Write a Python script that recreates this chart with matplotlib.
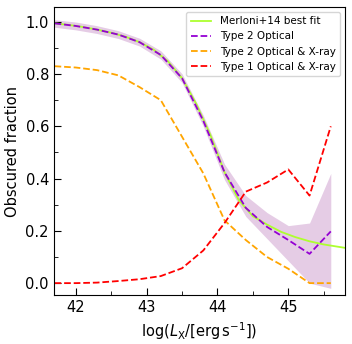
import matplotlib
matplotlib.use("Agg")
import matplotlib.pyplot as plt
from matplotlib.ticker import MultipleLocator

# luminosity bins
logL = [41.7, 42.0, 42.3, 42.6, 42.9, 43.2, 43.5, 43.8, 44.1, 44.4, 44.7, 45.0, 45.3, 45.6]

# Type 2 Optical fraction and its uncertainty band
type2_opt = [0.994, 0.984, 0.970, 0.951, 0.922, 0.873, 0.784, 0.621, 0.424, 0.288, 0.215, 0.165, 0.112, 0.198]
type2_opt_lo = [0.979, 0.969, 0.955, 0.936, 0.907, 0.857, 0.767, 0.600, 0.395, 0.255, 0.170, 0.085, 0.000, -0.020]
type2_opt_hi = [1.008, 0.999, 0.985, 0.966, 0.937, 0.889, 0.801, 0.642, 0.455, 0.335, 0.270, 0.220, 0.230, 0.420]

# Type 2 Optical & X-ray
type2_optx = [0.830, 0.825, 0.815, 0.795, 0.750, 0.700, 0.560, 0.420, 0.240, 0.165, 0.100, 0.055, 0.000, 0.000]

# Type 1 Optical & X-ray
type1_optx = [0.000, 0.000, 0.002, 0.008, 0.015, 0.027, 0.057, 0.125, 0.230, 0.350, 0.385, 0.435, 0.335, 0.600]

# Merloni+14 best fit curve
merloni_x = [41.7, 41.9, 42.1, 42.3, 42.5, 42.7, 42.9, 43.1, 43.3, 43.5, 43.7, 43.9, 44.1, 44.3, 44.5, 44.7, 44.9, 45.1, 45.3, 45.5, 45.8]
merloni_y = [0.994, 0.988, 0.980, 0.970, 0.958, 0.943, 0.922, 0.893, 0.849, 0.784, 0.686, 0.567, 0.424, 0.318, 0.256, 0.224, 0.196, 0.176, 0.160, 0.148, 0.135]

fig = plt.figure(figsize=(3.52, 3.44), dpi=100)
ax = fig.add_axes([0.153, 0.142, 0.827, 0.838])

ax.fill_between(logL, type2_opt_lo, type2_opt_hi, color='purple', alpha=0.2, lw=0)
ax.plot(merloni_x, merloni_y, color='greenyellow', lw=1.3, label='Merloni+14 best fit')
ax.plot(logL, type2_opt, color='darkviolet', ls='--', lw=1.3, label='Type 2 Optical')
ax.plot(logL, type2_optx, color='orange', ls='--', lw=1.3, label='Type 2 Optical & X-ray')
ax.plot(logL, type1_optx, color='red', ls='--', lw=1.3, label='Type 1 Optical & X-ray')

ax.set_xlim(41.69, 45.8)
ax.set_ylim(-0.046, 1.057)
ax.xaxis.set_major_locator(MultipleLocator(1))
ax.xaxis.set_minor_locator(MultipleLocator(0.5))
ax.yaxis.set_major_locator(MultipleLocator(0.2))
ax.yaxis.set_minor_locator(MultipleLocator(0.1))
ax.tick_params(which='both', direction='in', labelsize=10.5)
ax.tick_params(which='major', length=5)
ax.tick_params(which='minor', length=3)

ax.set_xlabel(r'$\log(L_{\mathrm{X}}/[\mathrm{erg\,s^{-1}}])$', fontsize=10.5)
ax.set_ylabel('Obscured fraction', fontsize=10.5)
ax.legend(loc='upper right', fontsize=7.5, framealpha=0.8, borderaxespad=0.5)

fig.savefig('out.png', dpi=100)
